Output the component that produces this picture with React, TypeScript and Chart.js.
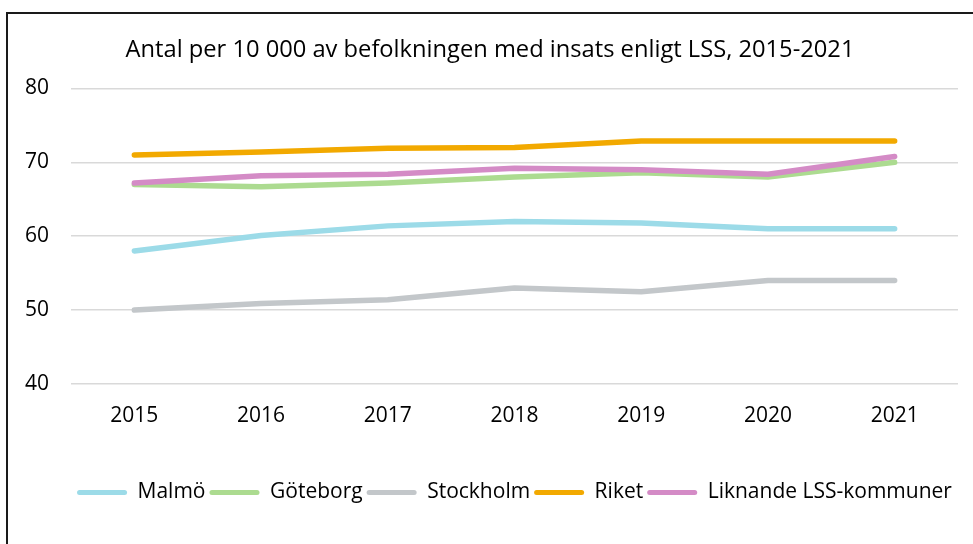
import React, { useEffect, useRef } from "react";
import { Chart, registerables } from "chart.js";

Chart.register(...registerables);

const years = ["2015", "2016", "2017", "2018", "2019", "2020", "2021"];
const malmo = [58.0, 60.1, 61.4, 62.0, 61.8, 61.0, 61.0];
const goteborg = [67.0, 66.7, 67.2, 68.0, 68.6, 68.0, 70.0];
const stockholm = [50.0, 50.9, 51.4, 53.0, 52.5, 54.0, 54.0];
const riket = [71.0, 71.4, 71.9, 72.0, 72.9, 72.9, 72.9];
const liknande = [67.2, 68.2, 68.4, 69.2, 69.0, 68.4, 70.8];

const seriesNames = ["Malmö", "Göteborg", "Stockholm", "Riket", "Liknande LSS-kommuner"];
const seriesColors = ["#9cdbe8", "#acdb90", "#c3c7ca", "#f2a900", "#d48bc6"];
const titleText = "Antal per 10 000 av befolkningen med insats enligt LSS, 2015-2021";

const FONT = "'Open Sans', sans-serif";

export default function App() {
  const ref = useRef<HTMLCanvasElement | null>(null);

  useEffect(() => {
    if (!ref.current) return;
    const values = [malmo, goteborg, stockholm, riket, liknande];
    const chart = new Chart(ref.current, {
      type: "line",
      data: {
        labels: years,
        datasets: values.map((v, i) => ({
          label: seriesNames[i],
          data: v,
          borderColor: seriesColors[i],
          backgroundColor: seriesColors[i],
          borderWidth: 5.5,
          borderCapStyle: "round" as const,
          borderJoinStyle: "round" as const,
          pointRadius: 0,
          pointHoverRadius: 0,
          tension: 0,
          fill: false,
          order: values.length - 1 - i,
        })),
      },
      options: {
        responsive: false,
        animation: false,
        layout: { padding: { left: 22, right: 15, top: 12, bottom: 31 } },
        plugins: {
          tooltip: { enabled: false },
          title: {
            display: true,
            text: titleText,
            color: "#000",
            font: { family: FONT, size: 23.7, weight: "normal" },
            padding: { top: 24, bottom: 24 },
          },
          legend: {
            position: "bottom",
            fullSize: false,
            labels: {
              color: "#000",
              font: { family: FONT, size: 21 },
              boxWidth: 50,
              boxHeight: 5,
              useBorderRadius: true,
              borderRadius: 2.5,
              padding: 4,
              generateLabels: (chart: any) =>
                chart.data.datasets.map((ds: any, i: number) => ({
                  text: ds.label,
                  fillStyle: ds.borderColor,
                  strokeStyle: ds.borderColor,
                  lineWidth: 0,
                  datasetIndex: i,
                  hidden: false,
                  fontColor: "#000",
                  borderRadius: 2.5,
                })),
            },
          },
        },
        scales: {
          x: {
            offset: true,
            grid: { display: false },
            border: { display: false },
            ticks: { color: "#000", font: { family: FONT, size: 21 }, padding: 11, maxRotation: 0 },
            afterFit: (scale: any) => {
              scale.height = 94;
            },
          },
          y: {
            min: 40,
            max: 80,
            grid: { color: "#d9d9d9", lineWidth: 1.5, drawTicks: false },
            border: { display: false },
            ticks: { stepSize: 10, color: "#000", font: { family: FONT, size: 21 }, padding: 22 },
            afterFit: (scale: any) => {
              scale.width = 49;
            },
          },
        },
      },
    });
    return () => chart.destroy();
  }, []);

  return (
    <div style={{ position: "fixed", left: 0, top: 0, width: 973, height: 544, background: "#fff", overflow: "hidden" }}>
      <div
        style={{
          position: "absolute",
          left: 6,
          top: 12,
          width: 1100,
          height: 700,
          borderTop: "2px solid #1a1a1a",
          borderLeft: "2px solid #1a1a1a",
        }}
      />
      <canvas ref={ref} width={973} height={544} style={{ position: "absolute", left: 0, top: 0 }} />
    </div>
  );
}
